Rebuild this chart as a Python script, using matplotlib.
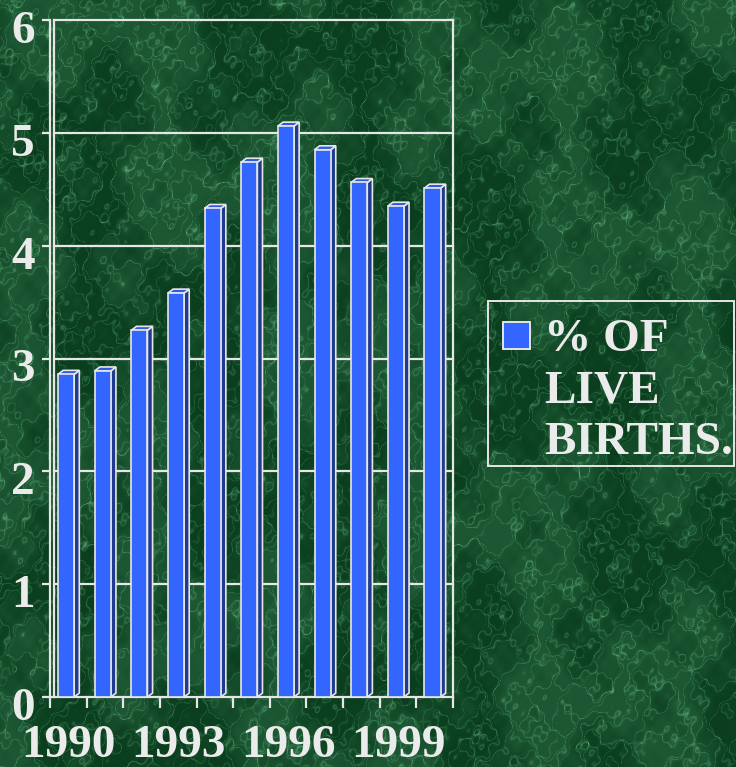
import numpy as np
import matplotlib
matplotlib.use('Agg')
import matplotlib.pyplot as plt
from matplotlib.patches import Polygon, Rectangle
from matplotlib.transforms import ScaledTranslation

# data
years = [1990, 1991, 1992, 1993, 1994, 1995, 1996, 1997, 1998, 1999, 2000]
pct_live_births = [2.86, 2.89, 3.25, 3.58, 4.33, 4.74, 5.06, 4.85, 4.56, 4.35, 4.51]
year_ticks = [1990, 1993, 1996, 1999]
y_ticks = [0, 1, 2, 3, 4, 5, 6]
legend_lines = ['% OF', 'LIVE', 'BIRTHS.']

W, H = 736, 767
TXT = '#EBEBEB'
FRONT = '#3366FF'
SIDE = '#1F3A8F'
TOP = '#2F5BE0'
EDGE = '#E6E6E6'
FS = 34
plt.rcParams['font.family'] = ['Liberation Serif', 'DejaVu Serif']
plt.rcParams['font.weight'] = 'bold'

fig = plt.figure(figsize=(W / 100, H / 100), dpi=100)

# green marble background (deterministic pattern, decoration only)
yy, xx = np.mgrid[0:H, 0:W] / 45.0
turb = (np.sin(xx * 1.3 + yy * 0.7) + 0.5 * np.sin(xx * 2.9 - yy * 2.1 + 1.0)
        + 0.25 * np.sin(xx * 6.1 + yy * 5.3 + 2.0) + 0.15 * np.sin(xx * 11.7 - yy * 9.9 + 0.5)
        + 0.08 * np.sin(xx * 21.0 + yy * 17.0))
vein = np.abs(np.sin(xx * 2.0 + yy * 1.2 + 3.0 * turb))
vein2 = np.abs(np.sin(xx * 0.9 - yy * 2.4 + 2.6 * turb + 1.3))
vein3 = np.abs(np.sin(xx * 3.1 + yy * 2.2 - 2.0 * turb + 0.4))
mottle = 0.5 + 0.5 * np.sin(xx * 0.8 - yy * 0.6 + 1.5 * turb)
val = 0.22 * mottle + 0.40 * (1 - vein) ** 10 + 0.35 * (1 - vein2) ** 12 + 0.25 * (1 - vein3) ** 14
val = np.clip(val, 0, 1)
dark = np.array([10, 62, 30]) / 255
light = np.array([95, 175, 125]) / 255
tex = dark + val[..., None] * (light - dark)
bg = fig.add_axes([0, 0, 1, 1])
bg.imshow(tex, aspect='auto', interpolation='bilinear')
bg.axis('off')

ax = fig.add_axes([50 / W, 70 / H, 403 / W, 677 / H])
ax.patch.set_alpha(0)
n = len(years)
x = np.arange(n)
ax.set_xlim(-0.5, n - 0.5)
ax.set_ylim(0, 6)

# back wall + gridlines
wall_dx = 0.11
for yv in y_ticks[1:]:
    ax.plot([-0.5 + wall_dx, n - 0.5], [yv, yv], color=EDGE, lw=1.6, zorder=1, clip_on=False)
ax.plot([-0.5 + wall_dx, -0.5 + wall_dx], [0, 6], color=EDGE, lw=1.6, zorder=1, clip_on=False)
ax.plot([n - 0.5, n - 0.5], [0, 6], color=EDGE, lw=1.6, zorder=1, clip_on=False)

# 3d-ish bars
bw = 0.44
shift = -0.06
dx, dy = 0.14, 0.035
ax.bar(x + shift, pct_live_births, width=bw, color=FRONT, edgecolor=EDGE, lw=1.2, zorder=4)
for xi, v in zip(x + shift, pct_live_births):
    l, r = xi - bw / 2, xi + bw / 2
    ax.add_patch(Polygon([(r, 0), (r + dx, dy), (r + dx, v + dy), (r, v)],
                         closed=True, fc=SIDE, ec=EDGE, lw=1.2, zorder=3))
    ax.add_patch(Polygon([(l, v), (r, v), (r + dx, v + dy), (l + dx, v + dy)],
                         closed=True, fc=TOP, ec=EDGE, lw=1.2, zorder=3))

for s in ['top', 'right']:
    ax.spines[s].set_visible(False)
for s in ['left', 'bottom']:
    ax.spines[s].set_color(EDGE)
    ax.spines[s].set_linewidth(1.6)

ax.set_yticks(y_ticks)
ax.set_yticklabels([str(t) for t in y_ticks])
ax.tick_params(axis='y', direction='out', length=6, width=1.6, color=EDGE,
               labelsize=FS, labelcolor=TXT, pad=5)
for lab in ax.get_yticklabels():
    lab.set_transform(lab.get_transform() + ScaledTranslation(0, -5 / 72, fig.dpi_scale_trans))

ax.set_xticks(np.arange(-0.5, n, 1.0))
ax.set_xticklabels([])
ax.tick_params(axis='x', which='major', direction='out', length=8, width=1.6, color=EDGE)
ax.set_xticks([years.index(y) for y in year_ticks], minor=True)
ax.set_xticklabels([str(y) for y in year_ticks], minor=True)
ax.tick_params(axis='x', which='minor', length=0, labelsize=FS, labelcolor=TXT, pad=20)

# legend (drawn by hand to keep the swatch on the first line)
fig.patches.append(Rectangle((488 / W, (H - 466) / H), 246 / W, 165 / H,
                             transform=fig.transFigure, fill=False, ec=EDGE, lw=1.4))
fig.patches.append(Rectangle((503 / W, (H - 349) / H), 27 / W, 27 / H,
                             transform=fig.transFigure, fc=FRONT, ec=EDGE, lw=1.4))
for i, line in enumerate(legend_lines):
    fig.text(544 / W, (H - 351 - 51.5 * i) / H, line, fontsize=FS, color=TXT,
             fontweight='bold', va='baseline', ha='left')

fig.savefig('out.png', dpi=100)
